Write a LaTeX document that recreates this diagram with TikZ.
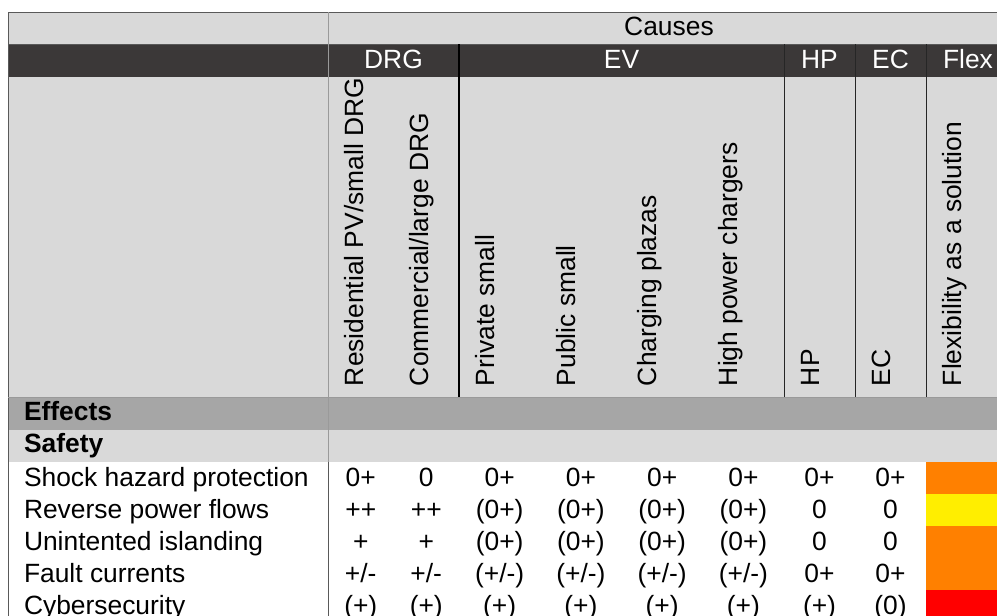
\documentclass[tikz,border=0pt]{standalone}
\usepackage{fontspec}
\setmainfont{Liberation Sans}
\definecolor{hdrgrey}{HTML}{D9D9D9}
\definecolor{hdrdark}{HTML}{3B3838}
\definecolor{effgrey}{HTML}{A6A6A6}
\definecolor{flexorange}{HTML}{FF8000}
\definecolor{flexyellow}{HTML}{FFEE00}
\definecolor{flexred}{HTML}{FF0000}
\definecolor{gridline}{HTML}{595959}
\definecolor{softline}{HTML}{9A9A9A}
\begin{document}
\begin{tikzpicture}[x=1pt,y=-1pt,
  txt/.style={font=\fontsize{26.4}{31}\selectfont, inner sep=0pt, outer sep=0pt},
  cell/.style={txt, anchor=base},
  rowlabel/.style={txt, anchor=base west},
  headlabel/.style={txt, anchor=base west, font=\fontsize{26.4}{31}\selectfont\bfseries},
  vlabel/.style={txt, rotate=90, anchor=base west},
  bandtxt/.style={txt, anchor=base, text=white},
  grid/.style={draw=gridline, line width=1pt},
  softgrid/.style={draw=softline, line width=0.8pt},
  colsep/.style={draw=black!85, line width=1pt},
  groupsep/.style={draw=black, line width=1.3pt},
]
\useasboundingbox (0,0) rectangle (997,616);
\clip (0,0) rectangle (997,616);

% column centres of the eight value columns
\def\colxs{{360.75,426.25,499.625,580.875,662.125,743.375,819.5,890.5}}

% ---- header bands ----
\fill[hdrgrey] (8,12) rectangle (1010,44);
\fill[hdrdark] (8,44) rectangle (1010,77);
\fill[hdrgrey] (8,77) rectangle (1010,397);
\fill[effgrey] (8,397) rectangle (1010,430);
\fill[hdrgrey] (8,430) rectangle (1010,462);
\fill[white] (8,462) rectangle (1010,622);

% ---- flexibility colour cells ----
\foreach \fc [count=\r] in {flexorange,flexyellow,flexorange,flexorange,flexred}
  \fill[\fc] (926,{462+32*(\r-1)}) rectangle (1010,{462+32*\r});

% ---- rules ----
\draw[grid] (8,12) -- (1010,12);
\draw[grid] (8,12) -- (8,622);
\draw[grid] (8,44) -- (1010,44);
\draw[softgrid] (8,397) -- (1010,397);
\draw[softgrid] (328,12) -- (328,462);
\draw[grid] (328,462) -- (328,622);
\draw[groupsep] (459,44) -- (459,397);
\foreach \x in {784,855,926}
  \draw[colsep] (\x,44) -- (\x,397);

% ---- top header ----
\node[cell] (causes) at (669,35) {Causes};
\node[bandtxt] (gDRG) at (393.5,68) {DRG};
\node[bandtxt] (gEV) at (621.5,68) {EV};
\node[bandtxt] (gHP) at (819.5,68) {HP};
\node[bandtxt] (gEC) at (890.5,68) {EC};
\node[bandtxt] (gFlex) at (968,68) {Flex};

% ---- rotated column heads ----
\foreach \xl/\t [count=\i] in {
  328/{Residential PV/small DRG},
  393.5/{Commercial/large DRG},
  459/{Private small},
  540.25/{Public small},
  621.5/{Charging plazas},
  702.75/{High power chargers},
  784/{HP},
  855/{EC},
  926/{Flexibility as a solution}}
  \node[vlabel] (h\i) at (\xl+35,386) {\t};

% ---- section heads ----
\node[headlabel] (effects) at (24,420) {Effects};
\node[headlabel] (safety) at (24,452) {Safety};

% ---- data rows ----
\foreach \lab/\vals [count=\r] in {
  Shock hazard protection/{0+,0,0+,0+,0+,0+,0+,0+},
  Reverse power flows/{++,++,{(0+)},{(0+)},{(0+)},{(0+)},0,0},
  Unintented islanding/{+,+,{(0+)},{(0+)},{(0+)},{(0+)},0,0},
  Fault currents/{+/-,+/-,{(+/-)},{(+/-)},{(+/-)},{(+/-)},0+,0+},
  Cybersecurity/{{(+)},{(+)},{(+)},{(+)},{(+)},{(+)},{(+)},{(0)}}}
{
  \pgfmathsetmacro\by{462+32*(\r-1)+24}
  \node[rowlabel] (lab\r) at (24,\by) {\lab};
  \foreach \v [count=\c] in \vals {
    \pgfmathsetmacro\cx{\colxs[\c-1]}
    \node[cell] (v\r-\c) at (\cx,\by) {\v};
  }
}
\end{tikzpicture}
\end{document}
